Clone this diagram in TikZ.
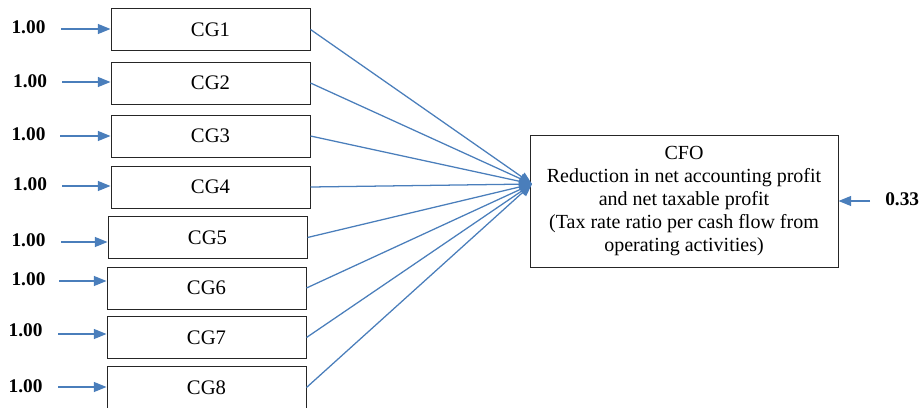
\documentclass[tikz,border=0pt]{standalone}
\usepackage{fontspec}
\setmainfont{Liberation Serif}
\usetikzlibrary{arrows.meta}
\definecolor{lineblue}{RGB}{74,126,187}
\begin{document}
\begin{tikzpicture}[x=0.75pt,y=-0.75pt,
  cgbox/.style={draw=black!85,line width=0.75pt,minimum width=149.25pt,minimum height=31.5pt,inner sep=0pt,font=\fontsize{15.5}{17}\selectfont},
  cfobox/.style={draw=black!85,line width=0.75pt,minimum width=231pt,minimum height=99pt,inner sep=0pt,align=center,font=\fontsize{15}{17.25}\selectfont},
  wlabel/.style={font=\fontsize{14.5}{17}\selectfont\bfseries,inner sep=0pt},
  conn/.style={draw=lineblue,line width=0.95pt,-{Triangle[length=9.5pt,width=7.5pt]}}
  ]
\useasboundingbox (0,0) rectangle (920,407);
% CG boxes
\node[cgbox] (cg1) at (210.5,29.5) {CG1};
\node[cgbox] (cg2) at (210.5,83) {CG2};
\node[cgbox] (cg3) at (210.5,136) {CG3};
\node[cgbox] (cg4) at (210.5,187) {CG4};
\node[cgbox] (cg5) at (207.5,237.5) {CG5};
\node[cgbox] (cg6) at (206.5,288) {CG6};
\node[cgbox] (cg7) at (206.5,337.5) {CG7};
\node[cgbox] (cg8) at (206.5,387.5) {CG8};
% CFO box
\node[cfobox] (cfo) at (684,201) {CFO\\Reduction in net accounting profit\\and net taxable profit\\(Tax rate ratio per cash flow from\\operating activities)};
% input labels and start points
\node[wlabel] (l1) at (28.5,27) {1.00};
\node[wlabel] (l2) at (30,81) {1.00};
\node[wlabel] (l3) at (28.5,134) {1.00};
\node[wlabel] (l4) at (30,184) {1.00};
\node[wlabel] (l5) at (28.5,240) {1.00};
\node[wlabel] (l6) at (28.5,279) {1.00};
\node[wlabel] (l7) at (25.5,330) {1.00};
\node[wlabel] (l8) at (25.5,386) {1.00};
\coordinate (s1) at (61,29);
\coordinate (s2) at (62,82);
\coordinate (s3) at (60,136);
\coordinate (s4) at (62,186);
\coordinate (s5) at (61,242);
\coordinate (s6) at (59,281);
\coordinate (s7) at (58,334);
\coordinate (s8) at (58,387);
\foreach \i in {1,...,8}{
  \draw[conn] (s\i) -- (s\i -| cg\i.west);
}
% converging connectors
\coordinate (tip) at (532,184);
\foreach \i in {1,...,8}{
  \draw[conn] (cg\i.east) -- (tip);
}
% error term
\node[wlabel,anchor=west] (err) at (885,199) {0.33};
\coordinate (es) at (870,201);
\draw[conn] (es) -- (cfo.east);
\end{tikzpicture}
\end{document}
